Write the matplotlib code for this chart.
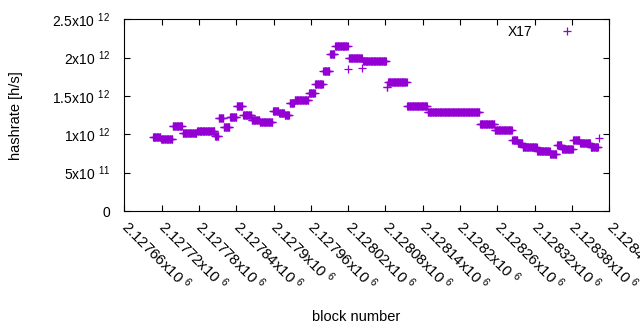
import numpy as np
import matplotlib
matplotlib.use('Agg')
import matplotlib.pyplot as plt
import matplotlib.ticker as mticker

plt.rcParams['font.family'] = ['Liberation Sans', 'DejaVu Sans']
plt.rcParams['mathtext.fontset'] = 'custom'
plt.rcParams['mathtext.rm'] = 'Liberation Sans'
plt.rcParams['mathtext.it'] = 'Liberation Sans:italic'
plt.rcParams['mathtext.bf'] = 'Liberation Sans:bold'

# piecewise-constant hashrate estimate (first block, last block, h/s)
seg_start = [2127706, 2127719, 2127738, 2127754, 2127777, 2127806, 2127812, 2127820,
             2127830, 2127841, 2127851, 2127865, 2127878, 2127899, 2127909, 2127918,
             2127926, 2127934, 2127957, 2127967, 2127980, 2127991, 2127999, 2128021,
             2128044, 2128084, 2128115, 2128148, 2128232, 2128256, 2128284, 2128293,
             2128301, 2128324, 2128345, 2128356, 2128364, 2128382, 2128393, 2128410]
seg_end = [2127718, 2127737, 2127753, 2127776, 2127805, 2127811, 2127819, 2127829,
           2127840, 2127850, 2127864, 2127877, 2127898, 2127908, 2127917, 2127925,
           2127933, 2127956, 2127966, 2127979, 2127990, 2127998, 2128019, 2128042,
           2128081, 2128114, 2128147, 2128231, 2128255, 2128283, 2128292, 2128300,
           2128323, 2128344, 2128355, 2128363, 2128381, 2128392, 2128409, 2128422]
seg_rate = [0.961e12, 0.935e12, 1.112e12, 1.021e12, 1.039e12, 0.978e12, 1.209e12, 1.099e12,
            1.230e12, 1.363e12, 1.258e12, 1.187e12, 1.167e12, 1.308e12, 1.282e12, 1.252e12,
            1.404e12, 1.451e12, 1.540e12, 1.660e12, 1.826e12, 2.047e12, 2.148e12, 1.991e12,
            1.952e12, 1.676e12, 1.365e12, 1.286e12, 1.129e12, 1.054e12, 0.926e12, 0.887e12,
            0.835e12, 0.789e12, 0.743e12, 0.861e12, 0.808e12, 0.926e12, 0.883e12, 0.841e12]

# isolated blocks
single_block = [2128020, 2128043, 2128082, 2128083, 2128424]
single_rate = [1.848e12, 1.861e12, 1.621e12, 1.621e12, 0.952e12]

xticks = np.arange(2127660, 2128441, 60)
yticks = [0, 5e11, 1e12, 1.5e12, 2e12, 2.5e12]

blocks, rates = [], []
for b0, b1, r in zip(seg_start, seg_end, seg_rate):
    bb = np.arange(b0, b1 + 1)
    blocks.extend(bb)
    rates.extend([r] * len(bb))
blocks.extend(single_block)
rates.extend(single_rate)
order = np.argsort(blocks)
blocks = np.array(blocks)[order]
rates = np.array(rates)[order]


def sci_label(v):
    if v == 0:
        return '0'
    exp = int(np.floor(np.log10(v)))
    mant = v / 10 ** exp
    m = ('%.5f' % mant).rstrip('0').rstrip('.')
    return m + r'x10 $^{%d}$' % exp


fig = plt.figure(figsize=(6.4, 3.3), dpi=100)
ax = fig.add_axes([0.1942, 0.3606, 0.7578, 0.5809])

ax.plot(blocks, rates, ls='none', marker='+', ms=5.4, mew=0.9,
        color='#9400d3', label='X17')

ax.set_xlim(2127660, 2128440)
ax.set_ylim(0, 2.5e12)
ax.set_xticks(xticks)
ax.set_yticks(yticks)
ax.xaxis.set_major_formatter(mticker.FuncFormatter(lambda v, p: sci_label(v)))
ax.yaxis.set_major_formatter(mticker.FuncFormatter(lambda v, p: sci_label(v)))
ax.tick_params(direction='in', top=True, right=True, length=4, width=0.8,
               labelsize=10, colors='black')
ax.tick_params(axis='y', pad=10)
ax.tick_params(axis='x', pad=9, labelrotation=-45, labelsize=10.8)
plt.setp(ax.get_xticklabels(), ha='left', va='center', rotation_mode='anchor')
for sp in ax.spines.values():
    sp.set_linewidth(0.8)

ax.set_xlabel('block number', fontsize=10.5)
ax.set_ylabel('hashrate [h/s]', fontsize=10.5)
ax.xaxis.set_label_coords(0.477, -0.516)
ax.yaxis.set_label_coords(-0.209, 0.50)

ax.legend(loc='upper right', bbox_to_anchor=(0.956, 0.97), frameon=False,
          markerfirst=False, handlelength=3.0, handletextpad=1.0,
          borderpad=0, borderaxespad=0, fontsize=10, numpoints=1)

fig.savefig('out.png', dpi=100, facecolor='white')
